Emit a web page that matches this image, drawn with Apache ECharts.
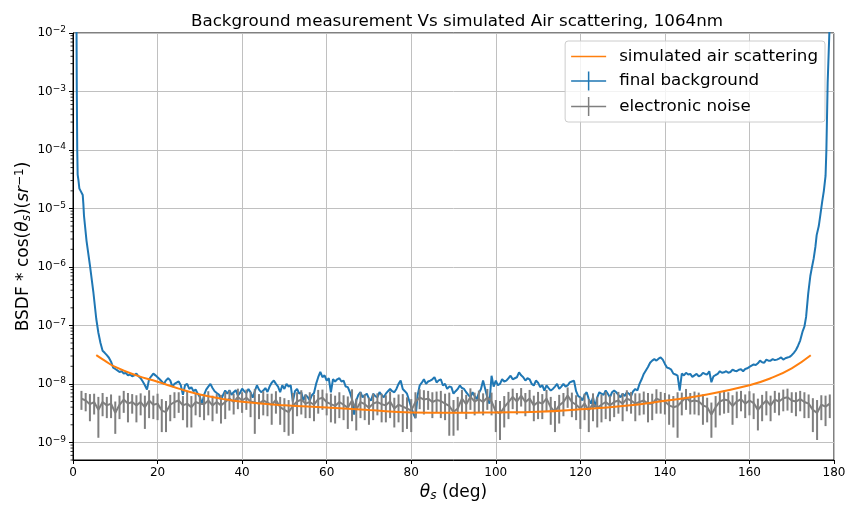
<!DOCTYPE html>
<html>
<head>
<meta charset="utf-8">
<script src="https://cdn.jsdelivr.net/npm/echarts@6/dist/echarts.min.js"></script>
<style>
  html, body { margin: 0; padding: 0; background: #fff; }
  #main { width: 848px; height: 506px; }
</style>
</head>
<body>
<div id="main"></div>
<script>
// simulated air scattering (smooth curve), read every few degrees
var airAngle = [5.5, 7.5, 10, 15, 20, 25, 30, 35, 40, 50, 60, 70, 80, 90, 100, 110, 120, 130, 140, 150, 160, 165, 170, 174.5];
var airValue = [3.1e-8, 2.5e-8, 1.95e-8, 1.4e-8, 1.09e-8, 8.3e-9, 6.6e-9, 5.6e-9, 4.95e-9, 4.3e-9, 3.95e-9, 3.57e-9, 3.26e-9, 3.21e-9, 3.25e-9, 3.34e-9, 3.67e-9, 4.18e-9, 5.15e-9, 6.6e-9, 9.5e-9, 1.25e-8, 1.85e-8, 3.08e-8];

// final background: steep rise near 0 deg
var bgLeftAngle = [0.8, 0.9, 1.0, 1.1, 1.3, 1.5, 1.8, 2.1, 2.3, 2.45, 2.6, 3.2, 4.0, 4.8, 5.5];
var bgLeftValue = [5e-2, 1e-3, 1e-4, 3.8e-5, 3e-5, 2.2e-5, 2e-5, 2.1e-5, 1.7e-5, 1.2e-5, 7.5e-6, 2.8e-6, 1.07e-6, 3.8e-7, 1.3e-7];

// final background, every 0.5 deg from 6 deg to 171.5 deg, in units of 1e-9
var bgStart = 6, bgStep = 0.5;
var bgMid = [
  75, 50, 37, 34, 31, 28, 24, 19,
  18, 17, 16, 16.5, 15, 15.5, 14, 14.5, 13.5, 14,
  15, 13.5, 12.5, 11, 9.5, 8, 12, 13.5, 15, 14,
  13, 12, 11, 10, 11.5, 12.5, 11.5, 9, 10, 10.5,
  11, 9.5, 6.5, 9.5, 10, 8.2, 8.8, 7.5, 8, 6.8,
  6, 4.5, 6.5, 8, 9, 10, 8.5, 7.5, 7, 6.6,
  5.3, 6.5, 7.7, 6.8, 7.8, 6.5, 7.2, 7.8, 6.3, 7.0,
  8.3, 7.5, 7, 8.2, 7.2, 5.8, 7.5, 9.5, 8, 7.2,
  7.7, 8.5, 7.3, 9, 10.5, 11.4, 10, 9, 7.2, 9.5,
  8.2, 10, 9, 9.4, 5, 7.5, 8.2, 6.8, 7.2, 5.2,
  6.5, 6, 5.2, 6.4, 7, 10, 13, 16, 13, 14,
  11.4, 12.5, 7.2, 12, 11, 12, 12.5, 11, 11.4, 9,
  8.8, 7.2, 5.5, 3.0, 5.2, 6.5, 7.2, 5.9, 6.4, 6.8,
  5.6, 5.2, 6.8, 6.2, 5.9, 7.2, 6.5, 5.9, 6.8, 7.5,
  8.2, 7.5, 7.2, 8.2, 10, 11.4, 8.2, 7.5, 6.8, 5.2,
  4.0, 3.1, 2.6, 6.3, 9.4, 10.5, 12, 10, 11, 11.4,
  12, 13, 10.6, 11.5, 12, 9.4, 10, 8.2, 9, 8.8,
  6.8, 7.5, 8.2, 9.4, 8.5, 8.2, 7.2, 6.5, 5.9, 7.2,
  6.2, 5.5, 7, 8.2, 11.4, 8.2, 5.9, 4.6, 13.8, 9,
  11.4, 9.5, 10, 12, 11, 11.4, 12.5, 13.8, 12, 12.5,
  13, 15.8, 14, 13, 11.4, 12.5, 12, 10, 9.4, 11.4,
  10.5, 8.8, 9.5, 7.7, 9.4, 8.5, 7.7, 8.2, 9, 10,
  8.2, 9, 10, 9, 9.4, 10.6, 11, 11.4, 7.5, 6.2,
  5.9, 5.2, 6.5, 7.2, 5.5, 4.6, 5.9, 4.0, 5.9, 7.2,
  6.8, 6.5, 7.7, 6.8, 5.9, 7.2, 7.7, 7.2, 6.5, 5.9,
  6.8, 6.2, 7.2, 6.8, 6.2, 7.5, 8.2, 7.7, 10, 12,
  14.8, 17, 19.5, 23, 25, 26.5, 25, 27, 28.3, 26,
  22, 19, 18.5, 17.5, 15, 14.5, 13.8, 7.7, 15, 14,
  15.5, 14.5, 14.8, 13.2, 14, 14.8, 13.5, 14, 15.5, 14.8,
  14.5, 16.5, 10.7, 13.5, 14.2, 14.8, 16.5, 15.5, 15.8, 16.5,
  15.5, 16, 17.5, 16.8, 16.5, 17.5, 17.8, 16.5, 18, 18.5,
  19.5, 20.5, 21.5, 21, 22.5, 25, 23.5, 23, 26, 25,
  25, 26.5, 25.5, 26, 27, 28.3, 26, 27.5, 28.3, 29,
  31, 34, 38, 45
];

// final background: steep rise near 180 deg
var bgRightAngle = [172.0, 172.6, 173.0, 173.4, 173.9, 174.4, 174.8, 175.2, 175.6, 175.9, 176.4, 176.8, 177.2, 177.6, 178.0, 178.2, 178.5, 178.9, 179.1];
var bgRightValue = [5.5e-8, 8e-8, 9.5e-8, 1.4e-7, 3.5e-7, 7e-7, 1e-6, 1.4e-6, 2.2e-6, 3.5e-6, 5e-6, 8e-6, 1.3e-5, 2e-5, 3.6e-5, 1e-4, 1.4e-3, 1e-2, 4e-2];

// electronic noise, one point per degree from 2 to 179 deg, in units of 1e-9
var noiseStart = 2;
var noiseValue = [
  5.6, 5.2, 4.5, 4.9, 3.6, 4.9, 4.3, 4.6, 3.2, 4.4,
  5.4, 4.6, 4.9, 4.3, 4.9, 4.0, 5.2, 4.4, 4.6, 3.5,
  3.3, 4.4, 4.9, 5.2, 4.3, 4.6, 4.0, 4.9, 4.6, 4.5,
  5.2, 4.3, 4.9, 4.3, 4.9, 5.6, 4.9, 6.0, 5.2, 5.8,
  5.0, 4.8, 4.6, 5.2, 4.8, 4.4, 5.3, 4.0, 3.6, 3.3,
  4.2, 5.0, 5.4, 4.6, 4.9, 4.4, 5.5, 5.8, 4.9, 4.5,
  4.2, 4.9, 4.4, 3.9, 5.2, 3.6, 4.9, 4.5, 3.9, 4.6,
  4.9, 4.5, 4.3, 5.0, 3.8, 4.4, 4.1, 3.8, 3.5, 4.9,
  5.9, 5.4, 5.6, 4.9, 5.3, 5.1, 4.6, 4.2, 3.3, 3.8,
  5.6, 4.5, 6.0, 5.0, 5.5, 4.9, 5.9, 5.0, 3.4, 3.1,
  4.0, 4.9, 6.0, 5.0, 6.3, 4.9, 5.6, 4.3, 4.9, 4.6,
  5.6, 4.0, 3.3, 4.3, 4.9, 6.3, 4.9, 4.4, 3.8, 4.6,
  3.5, 4.6, 3.9, 4.4, 4.9, 4.3, 4.9, 5.2, 4.6, 5.6,
  5.2, 4.6, 4.9, 5.2, 4.6,
  4.6, 5.6, 5.2, 5.0, 4.3, 4.0, 4.2, 5.0, 5.9, 5.0,
  5.2, 5.0, 4.3, 4.0, 3.0, 4.0, 5.0, 5.4, 5.2, 4.2,
  5.0, 5.5, 4.6, 5.2, 4.7, 3.6, 4.4, 5.2, 4.3, 5.4,
  5.0, 5.7, 5.9, 5.2, 5.0, 5.5, 4.9, 4.6, 3.6, 3.2,
  4.4, 4.1, 4.6
];
var noiseError = [
  2.0, 1.8, 2.2, 1.9, 2.4, 2.1, 1.7, 2.0, 1.8, 1.9,
  2.2, 2.4, 1.8, 2.1, 2.0, 2.3, 2.6, 1.9, 2.2, 2.0,
  1.8, 2.1, 2.3, 2.0, 1.9, 2.8, 2.2, 2.0, 1.9, 2.1,
  2.3, 2.0, 1.8, 2.2, 2.4, 2.1, 1.9, 2.3, 2.0, 2.2,
  2.3, 3.4, 2.1, 2.3, 2.0, 2.4, 2.2, 2.0, 2.1, 2.0,
  2.8, 2.2, 2.4, 2.0, 2.3, 2.1, 2.4, 2.2, 2.0, 2.3,
  2.1, 2.3, 2.0, 2.2, 2.9, 2.0, 2.3, 2.1, 1.9, 2.2,
  2.0, 2.3, 2.1, 2.4, 2.0, 2.2, 2.6, 2.1, 2.0, 2.3,
  2.2, 2.4, 2.0, 2.3, 2.1, 2.5, 2.2, 2.9, 2.0, 2.2,
  2.3, 2.0, 2.4, 2.1, 2.2, 2.0, 2.3, 2.1, 1.9, 2.0,
  2.2, 2.4, 2.3, 2.0, 2.2, 2.1, 2.3, 2.0, 2.4, 2.1,
  2.3, 2.0, 1.8, 2.2, 2.1, 2.4, 2.2, 2.0, 2.1, 2.2,
  2.0, 2.3, 2.1, 2.2, 2.4, 2.0, 2.2, 2.1, 2.3, 2.2,
  2.1, 2.3, 2.0, 2.2, 2.4,
  2.2, 2.5, 2.1, 2.0, 2.3, 2.2, 3.0, 2.1, 2.3, 2.0,
  2.2, 2.1, 2.3, 1.8, 1.8, 2.2, 2.1, 2.3, 2.0, 2.2,
  2.4, 2.1, 2.0, 2.3, 2.2, 2.0, 2.1, 2.3, 2.0, 2.2,
  2.1, 2.3, 2.4, 2.0, 2.2, 2.1, 2.3, 2.0, 2.1, 2.1,
  2.0, 2.2, 2.0
];

// y axis range and minor tick mantissas
var yMin = 5e-10, yMax = 1e-2;
var minorMantissa = [2, 3, 4, 5, 6, 7, 8, 9];
var minorExponent = [-10, -9, -8, -7, -6, -5, -4, -3];

var FONT = 'DejaVu Sans';
var BLUE = '#1f77b4', ORANGE = '#ff7f0e', GRAY = '#7f7f7f';

var airData = [];
for (var i = 0; i < airAngle.length; i++) airData.push([airAngle[i], airValue[i]]);

var bgData = [];
for (var i = 0; i < bgLeftAngle.length; i++) bgData.push([bgLeftAngle[i], bgLeftValue[i]]);
for (var i = 0; i < bgMid.length; i++) bgData.push([bgStart + i * bgStep, bgMid[i] * 1e-9]);
for (var i = 0; i < bgRightAngle.length; i++) bgData.push([bgRightAngle[i], bgRightValue[i]]);

var noiseData = [], noiseBars = [];
for (var i = 0; i < noiseValue.length; i++) {
  noiseData.push([noiseStart + i, noiseValue[i] * 1e-9]);
  noiseBars.push([noiseStart + i, noiseValue[i] * 1e-9, noiseError[i] * 1e-9]);
}

var minorData = [];
minorExponent.forEach(function (e) {
  minorMantissa.forEach(function (m) {
    var v = m * Math.pow(10, e);
    if (v >= yMin && v <= yMax) minorData.push([0, v]);
  });
});

var chart = echarts.init(document.getElementById('main'));

var crossIcon = 'path://M0,8.75 L35,8.75 L35,10.25 L0,10.25 Z M16.75,0 L18.25,0 L18.25,19 L16.75,19 Z';

var option = {
  backgroundColor: '#fff',
  animation: false,
  textStyle: { fontFamily: FONT },
  title: {
    text: 'Background measurement Vs simulated Air scattering, 1064nm',
    left: 452,
    textAlign: 'center',
    top: 8,
    textStyle: { fontFamily: FONT, fontSize: 16.7, fontWeight: 'normal', color: '#000' }
  },
  grid: {
    left: 73, right: 14, top: 33, bottom: 46,
    show: true, borderColor: '#000', borderWidth: 1,
    outerBoundsMode: 'none'
  },
  legend: {
    orient: 'vertical',
    right: 23,
    top: 41,
    padding: [7, 7, 6, 6],
    itemWidth: 35,
    itemHeight: 19,
    itemGap: 6.5,
    symbolKeepAspect: true,
    backgroundColor: 'rgba(255,255,255,0.8)',
    borderColor: '#cccccc',
    borderWidth: 1,
    borderRadius: 3,
    textStyle: { fontFamily: FONT, fontSize: 16.7, color: '#000', padding: [0, 0, 0, 8] },
    data: [
      { name: 'simulated air scattering', icon: 'path://M0,8.75 L35,8.75 L35,10.25 L0,10.25 Z' },
      { name: 'final background', icon: crossIcon },
      { name: 'electronic noise', icon: crossIcon }
    ]
  },
  xAxis: {
    type: 'value',
    min: 0, max: 180, interval: 20,
    name: '{it|θ}{sub|s} (deg)',
    nameLocation: 'middle',
    nameGap: 24,
    nameMoveOverlap: false,
    nameTextStyle: {
      fontFamily: FONT, fontSize: 17, color: '#000',
      rich: {
        it: { fontFamily: FONT, fontSize: 17, fontStyle: 'italic', color: '#000' },
        sub: { fontFamily: FONT, fontSize: 12, fontStyle: 'italic', color: '#000', verticalAlign: 'bottom', padding: [6, 0, 0, 0] }
      }
    },
    axisLine: { show: true, lineStyle: { color: '#000', width: 1 } },
    axisTick: { show: true, inside: false, length: 4, lineStyle: { color: '#000', width: 1 } },
    axisLabel: { fontFamily: FONT, fontSize: 12, color: '#000', margin: 7 },
    splitLine: { show: true, lineStyle: { color: '#c0c0c0', width: 1 } }
  },
  yAxis: {
    type: 'log',
    logBase: 10,
    min: yMin, max: yMax,
    name: 'BSDF * cos({it|θ}{sub|s})({it|sr}{sup|−1})',
    nameLocation: 'middle',
    nameRotate: 90,
    nameGap: 40,
    nameMoveOverlap: false,
    nameTextStyle: {
      fontFamily: FONT, fontSize: 17, color: '#000',
      rich: {
        it: { fontFamily: FONT, fontSize: 17, fontStyle: 'italic', color: '#000' },
        sub: { fontFamily: FONT, fontSize: 12, fontStyle: 'italic', color: '#000', verticalAlign: 'bottom', padding: [6, 0, 0, 0] },
        sup: { fontFamily: FONT, fontSize: 12, color: '#000', verticalAlign: 'top', padding: [0, 0, 7, 0] }
      }
    },
    axisLine: { show: true, lineStyle: { color: '#000', width: 1 } },
    axisTick: { show: true, inside: false, length: 4, lineStyle: { color: '#000', width: 1 } },
    axisLabel: {
      fontFamily: FONT, fontSize: 12, color: '#000', margin: 7,
      showMinLabel: false,
      formatter: function (v) {
        var e = Math.round(Math.log(v) / Math.LN10);
        return '10{sup|−' + Math.abs(e) + '}';
      },
      rich: { sup: { fontFamily: FONT, fontSize: 9, color: '#000', verticalAlign: 'top', padding: [0, 0, 6, 0] } }
    },
    splitLine: { show: true, lineStyle: { color: '#c0c0c0', width: 1 } }
  },
  series: [
    {
      name: 'final background',
      type: 'line',
      data: bgData,
      showSymbol: false,
      symbol: 'none',
      color: BLUE,
      lineStyle: { color: BLUE, width: 2 },
      z: 2
    },
    {
      name: 'electronic noise',
      type: 'line',
      data: noiseData,
      showSymbol: false,
      symbol: 'none',
      color: GRAY,
      lineStyle: { color: GRAY, width: 2 },
      z: 3
    },
    {
      type: 'custom',
      name: 'noise error',
      data: noiseBars,
      encode: { x: 0, y: 1 },
      z: 3,
      silent: true,
      renderItem: function (params, api) {
        var x = api.value(0), c = api.value(1), e = api.value(2);
        var top = api.coord([x, c + e]);
        var bot = api.coord([x, c - e]);
        return {
          type: 'line',
          shape: { x1: top[0], y1: top[1], x2: bot[0], y2: bot[1] },
          style: { stroke: GRAY, lineWidth: 2 }
        };
      }
    },
    {
      name: 'simulated air scattering',
      type: 'line',
      data: airData,
      smooth: true,
      showSymbol: false,
      symbol: 'none',
      color: ORANGE,
      lineStyle: { color: ORANGE, width: 2 },
      z: 4
    },
    {
      type: 'custom',
      name: 'minor ticks',
      data: minorData,
      encode: { x: 0, y: 1 },
      silent: true,
      z: 10,
      renderItem: function (params, api) {
        var p = api.coord([0, api.value(1)]);
        return {
          type: 'line',
          shape: { x1: p[0] - 2.5, y1: p[1], x2: p[0], y2: p[1] },
          style: { stroke: '#000', lineWidth: 0.8 }
        };
      }
    }
  ]
};

chart.setOption(option);
</script>
</body>
</html>
